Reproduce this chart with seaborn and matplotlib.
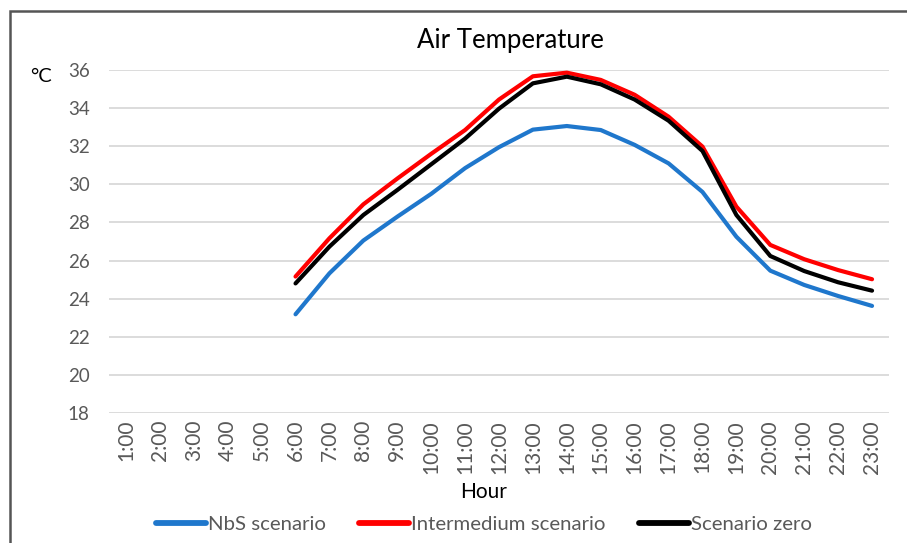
import matplotlib
matplotlib.use("Agg")
import matplotlib.pyplot as plt
import seaborn as sns
import pandas as pd
from matplotlib.patches import Rectangle

hour_labels = [f"{h}:00" for h in range(1, 24)]
data_hours = list(range(6, 24))
nbs = [23.18, 25.33, 27.05, 28.3, 29.5, 30.85, 31.95, 32.87, 33.06, 32.85, 32.07, 31.1, 29.6, 27.25, 25.47, 24.72, 24.14, 23.62]
intermedium = [25.16, 27.17, 28.95, 30.3, 31.6, 32.85, 34.45, 35.67, 35.86, 35.48, 34.7, 33.55, 31.98, 28.83, 26.82, 26.07, 25.5, 25.02]
zero = [24.8, 26.73, 28.39, 29.7, 31.05, 32.4, 33.97, 35.3, 35.65, 35.25, 34.45, 33.34, 31.75, 28.39, 26.24, 25.45, 24.86, 24.42]
series_names = ["NbS scenario", "Intermedium scenario", "Scenario zero"]
colors = ["#1F77CC", "#FF0000", "#000000"]

rows = []
for name, vals in zip(series_names, [nbs, intermedium, zero]):
    for h, v in zip(data_hours, vals):
        rows.append({"hour": h, "temp": v, "series": name})
df = pd.DataFrame(rows)

sns.set_style("white")
plt.rcParams["font.family"] = ["Lato", "DejaVu Sans"]

fig = plt.figure(figsize=(9.07, 5.43), dpi=100)
ax = fig.add_axes([109/907, 1-413/543, (889-109)/907, (413-70)/543])

sns.lineplot(data=df, x="hour", y="temp", hue="series", hue_order=series_names,
             palette=colors, linewidth=3.0, ax=ax, legend=True, sort=False)

ax.set_xlim(0.5, 23.5)
ax.set_ylim(18, 36)
ax.set_yticks(range(18, 37, 2))
ax.set_xticks(range(1, 24))
ax.set_xticklabels(hour_labels, rotation=90)
ax.tick_params(axis="both", colors="#595959", length=0)
ax.tick_params(axis="y", labelsize=13.5, pad=14)
ax.tick_params(axis="x", labelsize=15, pad=5)
ax.grid(axis="y", color="#D9D9D9", linewidth=1.3)
ax.set_axisbelow(True)
for s in ax.spines.values():
    s.set_visible(False)

ax.set_xlabel("Hour", fontsize=15, color="#000000", labelpad=6, x=(484-109)/780)
ax.set_ylabel("")
ax.set_title("Air Temperature", fontsize=18.5, color="#000000", pad=16, x=(510-109)/780)
fig.text(41/907, 1-77/543, "°C", fontsize=14.5, ha="center", va="center", color="#000000")

handles, labels = ax.get_legend_handles_labels()
ax.get_legend().remove()
for hd in handles:
    hd.set_linewidth(4.2)
fig.legend(handles, labels, loc="center", bbox_to_anchor=(484/907, 1-524/543), ncol=3,
           frameon=False, fontsize=14.7, handlelength=2.45, handletextpad=0.12,
           columnspacing=1.6, labelcolor="#595959")

fig.patches.append(Rectangle((10/907, -0.1), 1.2, 1-11/543+0.1, transform=fig.transFigure,
                             fill=False, edgecolor="#555555", linewidth=1.8, zorder=-1))

fig.savefig("out.png", dpi=100)
